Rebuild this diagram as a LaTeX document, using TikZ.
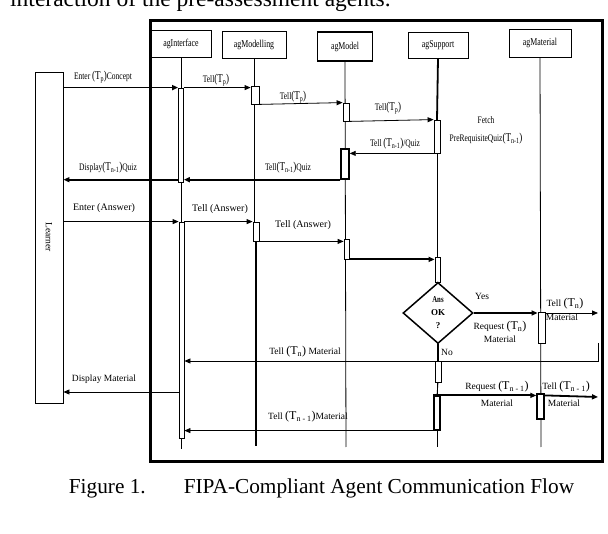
\documentclass[tikz,border=0pt]{standalone}
\usepackage{fontspec}
\usepackage{graphicx}
\setmainfont{Liberation Serif}
\usetikzlibrary{arrows.meta,shapes.geometric}
\newcommand\Tk[1]{{\fontsize{12}{12}\selectfont(T\textsubscript{#1})}}
\newcommand\cz[1]{\scalebox{0.75}[1]{#1}}
\begin{document}
\begin{tikzpicture}[x=1pt,y=-1pt,
  thinl/.style={line width=0.8pt},
  thickl/.style={line width=1.8pt},
  head/.style={draw,line width=0.9pt,inner sep=0pt,font=\fontsize{10.5}{11}\selectfont},
  act/.style={draw,fill=white,line width=0.8pt,inner sep=0pt},
  msg/.style={line width=0.8pt,-{Triangle[length=6pt,width=5pt]}},
  msgB/.style={line width=1.8pt,-{Triangle[length=6pt,width=5pt]}},
  lbl/.style={inner sep=0pt,font=\fontsize{10}{11}\selectfont},
  lbls/.style={inner sep=0pt,font=\fontsize{9.5}{10}\selectfont}]
\useasboundingbox (0,0) rectangle (608,534);
\clip (0,0) rectangle (608,534);

% surrounding page text
\node[anchor=base west,inner sep=0pt,font=\fontsize{23.5}{24}\selectfont] (topline) at (10,7) {interaction of the pre-assessment agents.};
\node[anchor=center,inner sep=0pt,font=\fontsize{21.3}{22}\selectfont] (caption) at (321.5,488) {Figure 1.\hspace{38pt}FIPA-Compliant Agent Communication Flow};

% frame
\node[draw,line width=3pt,minimum width=452pt,minimum height=441pt,inner sep=0pt] (frame) at (376,241.5) {};

% headers
\node[head,minimum width=60pt,minimum height=27pt] (hI) at (181,43.5) {\cz{agInterface}};
\node[head,minimum width=64pt,minimum height=27pt] (hMo) at (254,44.5) {\cz{agModelling}};
\node[head,line width=1.6pt,minimum width=55pt,minimum height=29pt] (hM) at (345,46.5) {\cz{agModel}};
\node[head,minimum width=60pt,minimum height=26pt] (hS) at (438,45) {\cz{agSupport}};
\node[head,minimum width=62pt,minimum height=28pt] (hMa) at (540,43) {\cz{agMaterial}};

% lifeline ends
\coordinate (eI) at (181,449);
\coordinate (eMo) at (256,446);
\coordinate (eM) at (346,447);
\coordinate (eS) at (437,447);
\coordinate (eMa) at (541,447);

% learner
\node[draw,line width=0.9pt,minimum width=28pt,minimum height=331pt,inner sep=0pt] (lr) at (49,237.5) {};
\node[lbl,rotate=-90,font=\fontsize{9.5}{10}\selectfont] (lrl) at (49,237) {Learner};

% lifelines
\draw[thinl] (hI.south) -- (eI);
\draw[thinl] (hMo.south) -- (254,241);
\draw[thickl] (256,241) -- (eMo);
\draw[thinl] (hM.south) -- (eM);
\draw[thickl] (hS.south) -- (437,120);
\draw[thinl] (437,153) -- (eS);
\draw[thinl] (hMa.south) -- (eMa);

% activation boxes
\node[act,minimum width=5pt,minimum height=94pt] (ia1) at (181,135) {};
\node[act,minimum width=5pt,minimum height=216pt] (ia2) at (181.5,330) {};
\draw[thickl] (ia2.north east) -- (ia2.south east);
\node[act,minimum width=8pt,minimum height=18pt] (mo1) at (255,95) {};
\node[act,minimum width=6pt,minimum height=19pt] (mo2) at (256,231.5) {};
\node[act,minimum width=6pt,minimum height=18pt] (m1) at (346,112) {};
\node[act,line width=1.4pt,minimum width=8pt,minimum height=30pt] (m2) at (345,164) {};
\node[act,minimum width=5pt,minimum height=20pt] (m3) at (346.5,249) {};
\node[act,minimum width=6pt,minimum height=33pt] (s1) at (437,136.5) {};
\node[act,minimum width=5pt,minimum height=25pt] (s2) at (437.5,269.5) {};
\node[draw,diamond,fill=white,line width=1.5pt,minimum width=70pt,minimum height=61pt,inner sep=0pt] (dia) at (438,313) {};
\node[act,minimum width=6pt,minimum height=21pt] (s3) at (438,371.5) {};
\node[act,line width=1.2pt,minimum width=6pt,minimum height=34pt] (s4) at (437,413) {};
\node[act,minimum width=7pt,minimum height=31pt] (ma1) at (541.5,327.5) {};
\node[act,line width=1.4pt,minimum width=7pt,minimum height=25pt] (ma2) at (540.5,406.5) {};

% diamond text
\node[lbl,font=\fontsize{9}{10}\selectfont\bfseries] (ans1) at (438,300) {\cz{Ans}};
\node[lbl,font=\fontsize{9}{10}\selectfont\bfseries] (ans2) at (438,313) {OK};
\node[lbl,font=\fontsize{9}{10}\selectfont\bfseries] (ans3) at (438,326) {?};

% right side coordinates
\coordinate (rA) at (598,313);
\coordinate (rB) at (598,343);
\coordinate (rC) at (598,361);
\coordinate (rD) at (598,397);
\coordinate (dm) at (120,392);

% messages
\draw[msgB] (lr.east |- ia1.north) -- (ia1.north west);
\draw[msg] (ia1.north east) -- (mo1.west |- ia1.north);
\draw[msg] (mo1.south east) -- (m1.north west);
\draw[msg] (m1.south east) -- (s1.north west);
\draw[msg] (s1.south west) -- (m2.east |- s1.south);
\draw[msgB] (m2.south west) -- (ia1.east |- m2.south);
\draw[msgB] (ia1.west |- m2.south) -- (lr.east |- m2.south);
\draw[msg] (lr.east |- ia2.north) -- (ia2.north west);
\draw[msg] (ia2.north east) -- (mo2.north west);
\draw[msg] (mo2.south east) -- (m3.west |- mo2.south);
\draw[msgB] (m3.south east) -- (s2.west |- m3.south);
\draw[thinl] (s2.south) -- (dia.north);
\draw[thinl] (dia.south) -- (s3.north);
\draw[thinl] (s3.south) -- (s4.north);
\draw[thinl] (s4.south) -- (eS);
\draw[msgB] (dia.east) -- (ma1.west |- dia.east);
\draw[msg] (ma1.east |- dia.east) -- (rA);
\draw[msg] (rB) -- (rC) -- (ia2.east |- rC);
\draw[msg] (ia2.west |- dm) -- (lr.east |- dm);
\draw[msgB] (s4.north west) -- (ma2.west |- s4.north);
\draw[msgB] (ma2.east |- s4.north) -- (rD);
\draw[msg] (s4.south west) -- (ia2.east |- s4.south);

% labels
\node[lbl] (l1) at (103,77) {\cz{Enter \Tk{p}Concept}};
\node[lbl] (l2) at (216,80) {\cz{Tell\Tk{p}}};
\node[lbl] (l3) at (293,97) {\cz{Tell\Tk{p}}};
\node[lbl] (l4) at (388,108) {\cz{Tell\Tk{p}}};
\node[lbl] (l5a) at (486,120) {\cz{Fetch}};
\node[lbl] (l5b) at (486,139) {\cz{PreRequisiteQuiz\Tk{n-1}}};
\node[lbl] (l6) at (395,144) {\cz{Tell \Tk{n-1}/Quiz}};
\node[lbl] (l7) at (288,168) {\cz{Tell\Tk{n-1}Quiz}};
\node[lbl] (l8) at (108,168) {\cz{Display\Tk{n-1}Quiz}};
\node[lbl] (l9) at (104,208) {Enter (Answer)};
\node[lbl] (l10) at (220,209) {Tell (Answer)};
\node[lbl] (l11) at (303,225) {Tell (Answer)};
\node[lbls,anchor=west] (lyes) at (475,296) {Yes};
\node[lbls] (l12a) at (500,327) {Request \Tk{n}};
\node[lbls] (l12b) at (500,339) {Material};
\node[lbls] (l13a) at (565,304) {Tell \Tk{n}};
\node[lbls] (l13b) at (562,317) {Material};
\node[lbls] (l14) at (305,352) {Tell \Tk{n} Material};
\node[lbls,anchor=west] (lno) at (441,352) {No};
\node[lbls] (l15) at (104,379) {Display Material};
\node[lbls] (l16a) at (497,387) {Request \Tk{n - 1}};
\node[lbls] (l16b) at (497,403) {Material};
\node[lbls] (l17a) at (566,387) {Tell \Tk{n - 1}};
\node[lbls] (l17b) at (564,403) {Material};
\node[lbls] (l18) at (308,417) {Tell \Tk{n - 1}Material};
\end{tikzpicture}
\end{document}
